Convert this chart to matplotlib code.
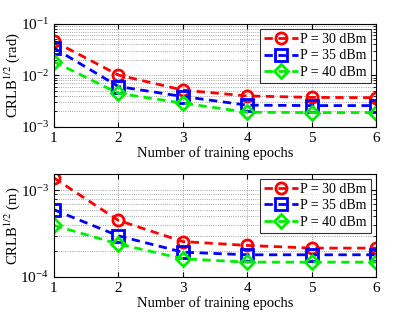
import matplotlib
matplotlib.use('Agg')
import matplotlib.pyplot as plt

plt.rcParams['font.family'] = ['Liberation Serif', 'DejaVu Serif']
plt.rcParams['mathtext.fontset'] = 'stix'

epochs = [1, 2, 3, 4, 5, 6]
labels = ['P = 30 dBm', 'P = 35 dBm', 'P = 40 dBm']
colors = ['red', 'blue', '#00ee00']
markers = ['o', 's', 'D']

# angle CRLB (rad)
rad_30 = [4.6e-2, 1.02e-2, 5.2e-3, 4.0e-3, 3.75e-3, 3.7e-3]
rad_35 = [3.4e-2, 6.1e-3, 3.9e-3, 2.65e-3, 2.6e-3, 2.6e-3]
rad_40 = [1.85e-2, 4.5e-3, 2.9e-3, 1.93e-3, 1.9e-3, 1.9e-3]

# position CRLB (m)
m_30 = [1.39e-3, 4.5e-4, 2.56e-4, 2.31e-4, 2.15e-4, 2.15e-4]
m_35 = [5.97e-4, 2.98e-4, 1.93e-4, 1.8e-4, 1.8e-4, 1.8e-4]
m_40 = [3.93e-4, 2.4e-4, 1.62e-4, 1.48e-4, 1.48e-4, 1.48e-4]

fig = plt.figure(figsize=(4.15, 3.19), dpi=100)
ax1 = fig.add_axes([0.130, 0.602, 0.776, 0.323])
ax2 = fig.add_axes([0.130, 0.132, 0.776, 0.323])

def draw(ax, series, ylim, ylabel):
    for s, c, m, l in zip(series, colors, markers, labels):
        ms = 8 if m != 'D' else 7
        ax.semilogy(epochs, s, '--', color=c, marker=m, mfc='none', mec=c,
                    mew=2, ms=ms, lw=2, label=l, dashes=(3, 2))
    ax.set_xlim(1, 6)
    ax.set_ylim(*ylim)
    ax.set_xticks(epochs)
    ax.grid(True, which='both', ls=':', color='#888888', lw=0.6)
    ax.set_xlabel('Number of training epochs', fontsize=10.5, labelpad=1)
    ax.set_ylabel(ylabel, fontsize=10.5)
    ax.yaxis.set_label_coords(-0.10, 0.5)
    ax.tick_params(labelsize=11, direction='in', which='both', top=True, right=True)
    leg = ax.legend(loc='upper right', fontsize=10, frameon=True, fancybox=False,
                    edgecolor='black', handlelength=2.4, borderpad=0.3,
                    labelspacing=0.25, handletextpad=0.2, borderaxespad=0.35)
    leg.get_frame().set_linewidth(0.8)

draw(ax1, [rad_30, rad_35, rad_40], (1e-3, 1e-1), r'CRLB$^{1/2}$ (rad)')
draw(ax2, [m_30, m_35, m_40], (1e-4, 1.55e-3), r'CRLB$^{1/2}$ (m)')

fig.savefig('out.png', dpi=100)
